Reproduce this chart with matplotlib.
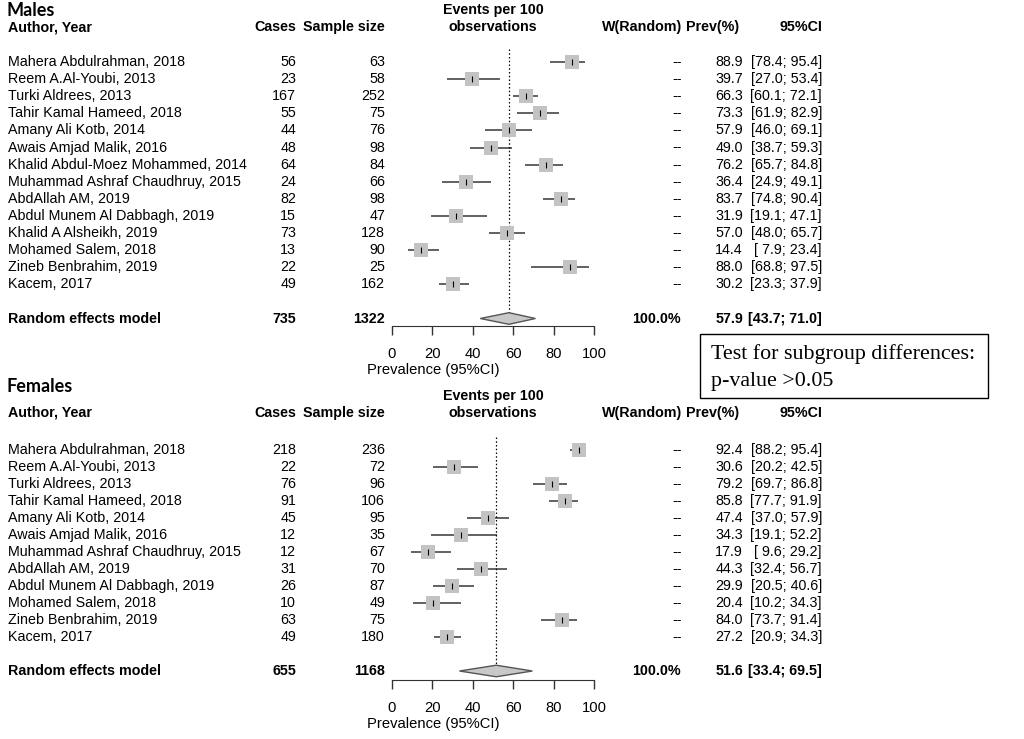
import numpy as np
import matplotlib
matplotlib.use('Agg')
import matplotlib.pyplot as plt
from matplotlib.transforms import blended_transform_factory
from matplotlib.patches import Rectangle

plt.rcParams['font.family'] = ['Liberation Sans', 'DejaVu Sans']

W, H = 1024, 739
FS = 10.3

# ---- Males ----
m_authors = ['Mahera Abdulrahman, 2018', 'Reem A.Al-Youbi, 2013', 'Turki Aldrees, 2013',
             'Tahir Kamal Hameed, 2018', 'Amany Ali Kotb, 2014', 'Awais Amjad Malik, 2016',
             'Khalid Abdul-Moez Mohammed, 2014', 'Muhammad Ashraf Chaudhruy, 2015',
             'AbdAllah AM, 2019', 'Abdul Munem Al Dabbagh, 2019', 'Khalid A Alsheikh, 2019',
             'Mohamed Salem, 2018', 'Zineb Benbrahim, 2019', 'Kacem, 2017']
m_cases = [56, 23, 167, 55, 44, 48, 64, 24, 82, 15, 73, 13, 22, 49]
m_size = [63, 58, 252, 75, 76, 98, 84, 66, 98, 47, 128, 90, 25, 162]
m_prev = [88.9, 39.7, 66.3, 73.3, 57.9, 49.0, 76.2, 36.4, 83.7, 31.9, 57.0, 14.4, 88.0, 30.2]
m_lo = [78.4, 27.0, 60.1, 61.9, 46.0, 38.7, 65.7, 24.9, 74.8, 19.1, 48.0, 7.9, 68.8, 23.3]
m_hi = [95.4, 53.4, 72.1, 82.9, 69.1, 59.3, 84.8, 49.1, 90.4, 47.1, 65.7, 23.4, 97.5, 37.9]
m_tot_cases, m_tot_size = 735, 1322
m_re = [57.9, 43.7, 71.0]  # estimate, lower, upper

# ---- Females ----
f_authors = ['Mahera Abdulrahman, 2018', 'Reem A.Al-Youbi, 2013', 'Turki Aldrees, 2013',
             'Tahir Kamal Hameed, 2018', 'Amany Ali Kotb, 2014', 'Awais Amjad Malik, 2016',
             'Muhammad Ashraf Chaudhruy, 2015', 'AbdAllah AM, 2019',
             'Abdul Munem Al Dabbagh, 2019', 'Mohamed Salem, 2018', 'Zineb Benbrahim, 2019',
             'Kacem, 2017']
f_cases = [218, 22, 76, 91, 45, 12, 12, 31, 26, 10, 63, 49]
f_size = [236, 72, 96, 106, 95, 35, 67, 70, 87, 49, 75, 180]
f_prev = [92.4, 30.6, 79.2, 85.8, 47.4, 34.3, 17.9, 44.3, 29.9, 20.4, 84.0, 27.2]
f_lo = [88.2, 20.2, 69.7, 77.7, 37.0, 19.1, 9.6, 32.4, 20.5, 10.2, 73.7, 20.9]
f_hi = [95.4, 42.5, 86.8, 91.9, 57.9, 52.2, 29.2, 56.7, 40.6, 34.3, 91.4, 34.3]
f_tot_cases, f_tot_size = 655, 1168
f_re = [51.6, 33.4, 69.5]

fig = plt.figure(figsize=(W / 100, H / 100), dpi=100)


def ftext(x, y, s, **kw):
    # x, y in pixels from top-left
    kw.setdefault('fontsize', FS)
    kw.setdefault('va', 'center')
    return fig.text(x / W, 1 - y / H, s, **kw)


def fmt_ci(lo, hi):
    return '[%4.1f; %4.1f]' % (lo, hi)


def panel(title, title_y, ev_y, head_y, authors, cases, size, prev, lo, hi,
          tot_cases, tot_size, re, row0, dy, axis_y, top_y):
    n = len(authors)
    ybot = 1 + (axis_y - row0) / dy
    ytop = 1 - (row0 - top_y) / dy
    ax = fig.add_axes([392 / W, 1 - axis_y / H, 202 / W, (axis_y - top_y) / H])
    ax.set_xlim(0, 100)
    ax.set_ylim(ybot, ytop)
    ax.patch.set_visible(False)

    rows = np.arange(1, n + 1)
    ax.hlines(rows, lo, hi, color='#555555', lw=1.3, zorder=2)
    ax.scatter(prev, rows, marker='s', s=100, color='#c3c3c3', linewidths=0, zorder=3)
    ax.scatter(prev, rows, marker='|', s=22, color='black', linewidths=0.8, zorder=4)

    rr = n + 2
    ax.fill([re[1], re[0], re[2], re[0]], [rr, rr - 0.34, rr, rr + 0.34],
            facecolor='#c8c8c8', edgecolor='#555555', lw=1, zorder=3)
    ax.vlines(re[0], 0.25, rr - 0.34, linestyles=(0, (1.2, 1.8)), color='black', lw=0.9)

    for side in ['top', 'right', 'left']:
        ax.spines[side].set_visible(False)
    ax.spines['bottom'].set_bounds(0, 100)
    ax.spines['bottom'].set_color('#333333')
    ax.set_yticks([])
    ax.set_xticks(range(0, 101, 20))
    ax.tick_params(axis='x', length=6.5, width=1, color='#333333', pad=8.5, labelsize=FS + 0.3)
    ftext(433, axis_y + 44, 'Prevalence (95%CI)', ha='center', fontsize=FS + 0.3)

    # headers
    ftext(7, title_y, title, fontweight='bold', fontsize=13, family=['Lato', 'DejaVu Sans'])
    ftext(8, head_y, 'Author, Year', fontweight='bold')
    ftext(296, head_y, 'Cases', fontweight='bold', ha='right')
    ftext(385, head_y, 'Sample size', fontweight='bold', ha='right')
    ftext(493, ev_y, 'Events per 100', fontweight='bold', ha='center')
    ftext(493, head_y, 'observations', fontweight='bold', ha='center')
    ftext(682, head_y, 'W(Random)', fontweight='bold', ha='right')
    ftext(739, head_y, 'Prev(%)', fontweight='bold', ha='right')
    ftext(822, head_y, '95%CI', fontweight='bold', ha='right')

    tr = blended_transform_factory(fig.transFigure, ax.transData)
    for i in range(n):
        r = rows[i]
        kw = dict(transform=tr, va='center', fontsize=FS)
        fig.text(8 / W, r, authors[i], ha='left', **kw)
        fig.text(296 / W, r, str(cases[i]), ha='right', **kw)
        fig.text(385 / W, r, str(size[i]), ha='right', **kw)
        fig.text(682 / W, r, '--', ha='right', **kw)
        fig.text(743 / W, r, '%.1f' % prev[i], ha='right', **kw)
        fig.text(822 / W, r, fmt_ci(lo[i], hi[i]), ha='right', **kw)
    kw = dict(transform=tr, va='center', fontsize=FS, fontweight='bold')
    fig.text(8 / W, rr, 'Random effects model', ha='left', **kw)
    fig.text(296 / W, rr, str(tot_cases), ha='right', **kw)
    fig.text(385 / W, rr, str(tot_size), ha='right', **kw)
    fig.text(681 / W, rr, '100.0%', ha='right', **kw)
    fig.text(743 / W, rr, '%.1f' % re[0], ha='right', **kw)
    fig.text(822 / W, rr, fmt_ci(re[1], re[2]), ha='right', **kw)
    return ax


panel('Males', 11, 10, 27, m_authors, m_cases, m_size, m_prev, m_lo, m_hi,
      m_tot_cases, m_tot_size, m_re, row0=62, dy=17.1, axis_y=326, top_y=0)
panel('Females', 387, 396, 413, f_authors, f_cases, f_size, f_prev, f_lo, f_hi,
      f_tot_cases, f_tot_size, f_re, row0=450, dy=17.0, axis_y=680, top_y=380)

# subgroup test box
fig.patches.append(Rectangle((700 / W, 1 - 398 / H), 288 / W, 64 / H, transform=fig.transFigure,
                             fill=False, edgecolor='black', lw=1))
ftext(711, 354, 'Test for subgroup differences:', fontsize=15.8,
      family=['Liberation Serif', 'DejaVu Serif'])
ftext(711, 381, 'p-value >0.05', fontsize=15.8, family=['Liberation Serif', 'DejaVu Serif'])

fig.savefig('out.png', dpi=100)
